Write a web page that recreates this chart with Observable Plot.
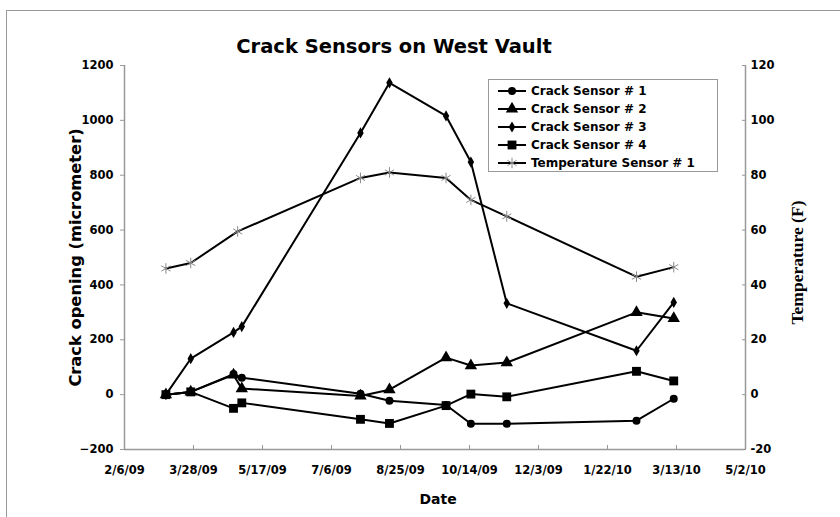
<!DOCTYPE html>
<html><head><meta charset="utf-8">
<script src="https://cdn.jsdelivr.net/npm/d3@7"></script>
<script src="https://cdn.jsdelivr.net/npm/@observablehq/plot@0.6"></script>
<style>
html,body{margin:0;padding:0;background:#fff;}
#wrap{position:relative;width:840px;height:517px;overflow:hidden;}
#border{position:absolute;left:6px;top:10px;width:860px;height:540px;border:1.5px solid #999;box-sizing:border-box;}
#chart{position:absolute;left:0;top:0;}
#legend{position:absolute;left:488px;top:79px;width:230px;height:93px;border:1.5px solid #999;box-sizing:border-box;background:#fff;font:bold 12px "DejaVu Sans";color:#000;}
.row{position:absolute;left:0;height:16px;display:flex;align-items:center;}
.row svg{margin-left:7px;margin-right:3px;}
</style></head>
<body><div id="wrap"><div id="border"></div><div id="chart"></div><div id="legend"></div></div>
<script>
const dates = ["2009-03-08","2009-03-26","2009-04-26","2009-05-02","2009-07-27","2009-08-17","2009-09-27","2009-10-15","2009-11-10","2010-02-12","2010-03-11"];
const sensor1 = [0, 10, 75, 62, 3, -22, -38, -106, -106, -95, -15];
const sensor2 = [0, 10, 72, 22, -5, 18, 135, 106, 117, 300, 278];
const sensor3 = [0, 131, 227, 248, 954, 1137, 1016, 848, 333, 160, 336];
const sensor4 = [0, 10, -50, -30, -90, -105, -40, 2, -8, 85, 50];
const tempDates = ["2009-03-08","2009-03-26","2009-04-29","2009-07-27","2009-08-17","2009-09-27","2009-10-15","2009-11-10","2010-02-12","2010-03-11"];
const temperature = [46, 48, 59.5, 79, 81, 79, 71, 65, 43, 46.5];
const seriesNames = ["Crack Sensor # 1","Crack Sensor # 2","Crack Sensor # 3","Crack Sensor # 4","Temperature Sensor # 1"];
const xTickLabels = ["2/6/09","3/28/09","5/17/09","7/6/09","8/25/09","10/14/09","12/3/09","1/22/10","3/13/10","5/2/10"];
const leftTicks = [-200, 0, 200, 400, 600, 800, 1000, 1200];
const rightTicks = [-20, 0, 20, 40, 60, 80, 100, 120];
const title = "Crack Sensors on West Vault";
const yLabel = "Crack opening (micrometer)";
const y2Label = "Temperature (F)";
const xLabel = "Date";

const parseISO = d3.utcParse("%Y-%m-%d");
const parseTick = d3.utcParse("%m/%d/%y");
const xTicks = xTickLabels.map(parseTick);
const fmtTick = d => `${d.getUTCMonth()+1}/${d.getUTCDate()}/${String(d.getUTCFullYear()).slice(2)}`;
const tempFactor = 10; // right axis -20..120 spans left axis -200..1200

const styles = [
  {symbol: "circle", r: 4, fill: "black", stroke: "none"},
  {symbol: "triangle", r: 4.6, fill: "black", stroke: "none"},
  {symbol: "diamond", r: 3.4, fill: "black", stroke: "none"},
  {symbol: "square", r: 5, fill: "black", stroke: "none"},
  {symbol: "asterisk", r: 5, fill: "none", stroke: "#8a8a8a"}
];
const sensors = [sensor1, sensor2, sensor3, sensor4];
const rows = [];
sensors.forEach((vals, s) => vals.forEach((v, i) => rows.push({series: seriesNames[s], date: parseISO(dates[i]), value: v})));
temperature.forEach((v, i) => rows.push({series: seriesNames[4], date: parseISO(tempDates[i]), value: v * tempFactor}));

const marks = [
  Plot.ruleY([leftTicks[0]], {stroke: "#999", strokeWidth: 1.5}),
  Plot.ruleX([xTicks[0], xTicks[xTicks.length-1]], {stroke: "#999", strokeWidth: 1.5}),
  Plot.axisY({ticks: leftTicks, tickFormat: "d", tickSize: 4, tickPadding: 7, label: null, stroke: "#999", fontSize: 11.5}),
  Plot.axisY({anchor: "right", ticks: rightTicks.map(t => t * tempFactor), tickFormat: d => String(d / tempFactor), tickSize: -4, tickPadding: 9, label: null, stroke: "#999", fontSize: 11.5}),
  Plot.axisX({ticks: xTicks, tickFormat: fmtTick, tickSize: -4, tickPadding: 20, label: null, stroke: "#999", fontSize: 11.5})
];
seriesNames.forEach((name, s) => {
  const data = rows.filter(r => r.series === name);
  marks.push(Plot.line(data, {x: "date", y: "value", stroke: "black", strokeWidth: 2}));
  const st = styles[s];
  marks.push(Plot.dot(data, {x: "date", y: "value", symbol: () => st.symbol, r: st.r, fill: st.fill, stroke: st.stroke, strokeWidth: 1}));
});
marks.push(
  Plot.text([title], {frameAnchor: "top", lineAnchor: "middle", dx: -41, dy: -19, fontSize: 19.5, fontWeight: "bold", fontFamily: "DejaVu Sans"}),
  Plot.text([yLabel], {frameAnchor: "left", textAnchor: "middle", lineAnchor: "middle", dx: -49, dy: 0, rotate: -90, fontSize: 16.3, fontWeight: "bold"}),
  Plot.text([y2Label], {frameAnchor: "right", textAnchor: "middle", lineAnchor: "middle", dx: 52, dy: 5, rotate: -90, fontSize: 17.5, fontWeight: "bold", fontFamily: "Liberation Serif"}),
  Plot.text([xLabel], {frameAnchor: "bottom", lineAnchor: "middle", dx: 3, dy: 50, fontSize: 14, fontWeight: "bold"})
);

const chart = Plot.plot({
  width: 840, height: 517,
  marginLeft: 124, marginRight: 95, marginTop: 65, marginBottom: 68,
  style: {fontFamily: "DejaVu Sans", fontWeight: "bold", fontSize: "11.5px", background: "transparent", color: "black", overflow: "visible"},
  x: {type: "utc", domain: [xTicks[0], xTicks[xTicks.length-1]]},
  y: {domain: [leftTicks[0], leftTicks[leftTicks.length-1]]},
  symbol: {type: "identity"},
  marks
});
document.getElementById("chart").appendChild(chart);

// legend
const legend = document.getElementById("legend");
const symMap = {circle: d3.symbolCircle, triangle: d3.symbolTriangle, diamond: d3.symbolDiamond, square: d3.symbolSquare, asterisk: d3.symbolAsterisk};
seriesNames.forEach((name, s) => {
  const st = styles[s];
  const row = document.createElement("div");
  row.className = "row";
  row.style.top = (3 + s * 18) + "px";
  const svg = d3.create("svg").attr("width", 32).attr("height", 14);
  svg.append("line").attr("x1", 2).attr("x2", 30).attr("y1", 7).attr("y2", 7).attr("stroke", "black").attr("stroke-width", 2);
  svg.append("path").attr("transform", "translate(16,7)")
    .attr("d", d3.symbol(symMap[st.symbol], Math.PI * st.r * st.r)())
    .attr("fill", st.fill).attr("stroke", st.stroke);
  row.appendChild(svg.node());
  const span = document.createElement("span");
  span.textContent = name;
  row.appendChild(span);
  legend.appendChild(row);
});
</script></body></html>
